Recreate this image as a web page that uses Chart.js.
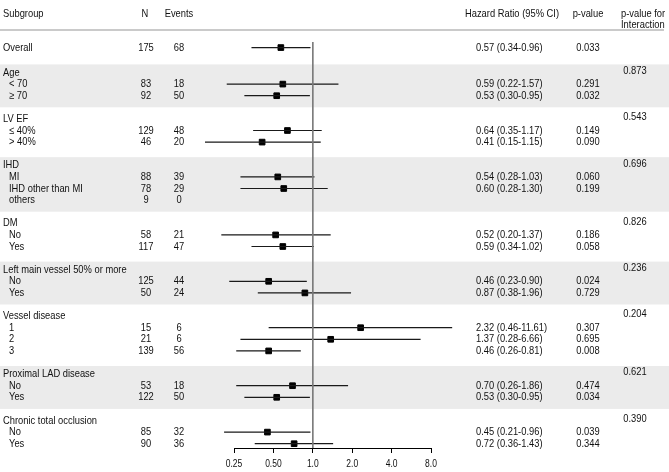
<!DOCTYPE html>
<html><head><meta charset="utf-8">
<script src="https://cdn.jsdelivr.net/npm/chart.js@4.4.1/dist/chart.umd.min.js"></script>
<style>html,body{margin:0;padding:0;background:#fff;}canvas{display:block}</style>
</head><body>
<canvas id="c" width="669" height="472" style="width:669px;height:472px"></canvas>
<script>
// ---- data ----
const subgroups = ['Overall','Age','< 70','≥ 70','LV EF','≤ 40%','> 40%','IHD','MI','IHD other than MI','others','DM','No','Yes','Left main vessel 50% or more','No','Yes','Vessel disease','1','2','3','Proximal LAD disease','No','Yes','Chronic total occlusion','No','Yes'];
const levels    = [0,0,1,1,0,1,1,0,1,1,1,0,1,1,0,1,1,0,1,1,1,0,1,1,0,1,1];
const nPatients = [175,null,83,92,null,129,46,null,88,78,9,null,58,117,null,125,50,null,15,21,139,null,53,122,null,85,90];
const nEvents   = [68,null,18,50,null,48,20,null,39,29,0,null,21,47,null,44,24,null,6,6,56,null,18,50,null,32,36];
const hazardRatio = [0.57,null,0.59,0.53,null,0.64,0.41,null,0.54,0.60,null,null,0.52,0.59,null,0.46,0.87,null,2.32,1.37,0.46,null,0.70,0.53,null,0.45,0.72];
const ciLower   = [0.34,null,0.22,0.30,null,0.35,0.15,null,0.28,0.28,null,null,0.20,0.34,null,0.23,0.38,null,0.46,0.28,0.26,null,0.26,0.30,null,0.21,0.36];
const ciUpper   = [0.96,null,1.57,0.95,null,1.17,1.15,null,1.03,1.30,null,null,1.37,1.02,null,0.90,1.96,null,11.61,6.66,0.81,null,1.86,0.95,null,0.96,1.43];
const pValues   = [0.033,null,0.291,0.032,null,0.149,0.090,null,0.060,0.199,null,null,0.186,0.058,null,0.024,0.729,null,0.307,0.695,0.008,null,0.474,0.034,null,0.039,0.344];
const pInteraction = [null,0.873,null,null,0.543,null,null,0.696,null,null,null,0.826,null,null,0.236,null,null,0.204,null,null,null,0.621,null,null,0.390,null,null];
const axisTicks = [0.25,0.5,1,2,4,8];
const axisTickLabels = ['0.25','0.50','1.0','2.0','4.0','8.0'];
const referenceValue = 1;
const columnHeaders = ['Subgroup','N','Events','Hazard Ratio (95% CI)','p-value','p-value for','Interaction'];

// ---- layout (rows) ----
const Y_MIN = -2.63, Y_MAX = 32.37, OVERALL_GAP = 2.15;
const rowPos = [];
let cur = null;
subgroups.forEach((s,i)=>{
  if (i===0) { rowPos.push(null); return; }
  if (levels[i]===0) cur = (cur===null) ? 0 : cur + 2; else cur += 1;
  rowPos.push(cur);
});
rowPos[0] = -OVERALL_GAP;
// shaded bands for alternating groups
const bands = [];
let gIdx = 0;
for (let i=1;i<subgroups.length;i++){
  if (levels[i]===0){
    let j=i; while (j+1<subgroups.length && levels[j+1]===1) j++;
    if (gIdx%2===0) bands.push([rowPos[i]-0.7, rowPos[j]+1.0]);
    gIdx++;
  }
}

const ciData = [], pointData = [];
hazardRatio.forEach((v,i)=>{
  if (v==null) return;
  ciData.push({x:ciLower[i],y:rowPos[i]},{x:ciUpper[i],y:rowPos[i]},{x:null,y:null});
  pointData.push({x:v,y:rowPos[i]});
});
const refData = [{x:referenceValue,y:Y_MIN},{x:referenceValue,y:Y_MAX}];

const FONT = '"Liberation Sans", Arial, Helvetica, sans-serif';
const SX = 0.85;
function txt(ctx, s, x, y, align, size){
  ctx.save();
  ctx.translate(x,y);
  ctx.scale(SX,1);
  ctx.font = (size||11)+'px '+FONT;
  ctx.textAlign = align||'left';
  ctx.textBaseline = 'middle';
  ctx.fillText(s,0,0);
  ctx.restore();
}

const forestTable = {
  id:'forestTable',
  beforeDraw(chart){
    const {ctx} = chart; const y = chart.scales.y;
    ctx.save();
    ctx.fillStyle = '#ebebeb';
    bands.forEach(b=>{
      const t = y.getPixelForValue(b[0]), bt = y.getPixelForValue(b[1]);
      ctx.fillRect(0,t,chart.width,bt-t);
    });
    ctx.strokeStyle = '#b8b8b8'; ctx.lineWidth = 1.5;
    ctx.beginPath(); ctx.moveTo(0,30); ctx.lineTo(664,30); ctx.stroke();
    ctx.restore();
  },
  afterDraw(chart){
    const {ctx} = chart; const y = chart.scales.y; const x = chart.scales.x;
    ctx.save();
    ctx.fillStyle = '#111';
    // headers
    txt(ctx, columnHeaders[0], 3, 14, 'left');
    txt(ctx, columnHeaders[1], 145, 14, 'center');
    txt(ctx, columnHeaders[2], 179, 14, 'center');
    txt(ctx, columnHeaders[3], 512, 14, 'center');
    txt(ctx, columnHeaders[4], 588, 14, 'center');
    txt(ctx, columnHeaders[5], 621, 14, 'left');
    txt(ctx, columnHeaders[6], 621, 25, 'left');
    subgroups.forEach((s,i)=>{
      const py = y.getPixelForValue(rowPos[i]);
      txt(ctx, s, levels[i] ? 9 : 3, py, 'left');
      if (nPatients[i]!=null) txt(ctx, String(nPatients[i]), 146, py, 'center');
      if (nEvents[i]!=null) txt(ctx, String(nEvents[i]), 179, py, 'center');
      if (hazardRatio[i]!=null) txt(ctx, hazardRatio[i].toFixed(2)+' ('+ciLower[i].toFixed(2)+'-'+ciUpper[i].toFixed(2)+')', 476, py, 'left');
      if (pValues[i]!=null) txt(ctx, pValues[i].toFixed(3), 588, py, 'center');
      if (pInteraction[i]!=null) txt(ctx, pInteraction[i].toFixed(3), 635, y.getPixelForValue(rowPos[i]-0.15), 'center');
    });
    // axis tick labels from the scale
    x.ticks.forEach((t,k)=>{
      txt(ctx, axisTickLabels[k], x.getPixelForValue(t.value), chart.chartArea.bottom+16, 'center', 10);
    });
    ctx.restore();
  }
};

new Chart(document.getElementById('c').getContext('2d'), {
  type:'scatter',
  data:{datasets:[
    {type:'line', data:refData, borderColor:'#7a7a7a', borderWidth:1, pointRadius:0, fill:false, clip:false},
    {type:'line', data:ciData, borderColor:'#1a1a1a', borderWidth:1.2, pointRadius:0, fill:false, spanGaps:false, clip:false},
    {type:'scatter', data:pointData, pointStyle:'rect', pointRadius:4, backgroundColor:'#000', borderColor:'#000', borderWidth:1, clip:false}
  ]},
  options:{
    responsive:false, animation:false, devicePixelRatio:1,
    layout:{padding:{left:234,right:238,top:42,bottom:19}},
    plugins:{legend:{display:false}, tooltip:{enabled:false}},
    scales:{
      x:{type:'logarithmic', min:0.25, max:8,
         afterBuildTicks:(s)=>{ s.ticks = axisTicks.map(v=>({value:v})); },
         ticks:{display:false, autoSkip:false},
         grid:{display:true, drawOnChartArea:false, drawTicks:true, tickLength:5, color:'#000', lineWidth:1},
         border:{display:true, color:'#000', width:1}},
      y:{type:'linear', reverse:true, min:Y_MIN, max:Y_MAX, display:false}
    }
  },
  plugins:[forestTable]
});
</script>
</body></html>
